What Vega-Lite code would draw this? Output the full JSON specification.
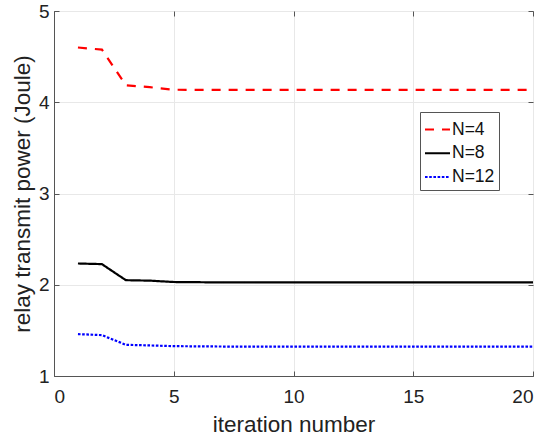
{
  "$schema": "https://vega.github.io/schema/vega-lite/v6.json",
  "width": 479,
  "height": 365,
  "autosize": {"type": "none"},
  "padding": {"left": 54, "top": 11, "right": 17, "bottom": 65},
  "background": "white",
  "config": {
    "font": "Liberation Sans",
    "view": {"stroke": "#555", "strokeWidth": 1}
  },
  "data": {
    "values": [
      {"iter": 1, "p": 4.60, "N": "N=4"},
      {"iter": 2, "p": 4.577, "N": "N=4"},
      {"iter": 3, "p": 4.186, "N": "N=4"},
      {"iter": 4, "p": 4.165, "N": "N=4"},
      {"iter": 5, "p": 4.137, "N": "N=4"},
      {"iter": 6, "p": 4.136, "N": "N=4"},
      {"iter": 7, "p": 4.135, "N": "N=4"},
      {"iter": 8, "p": 4.135, "N": "N=4"},
      {"iter": 9, "p": 4.135, "N": "N=4"},
      {"iter": 10, "p": 4.135, "N": "N=4"},
      {"iter": 11, "p": 4.135, "N": "N=4"},
      {"iter": 12, "p": 4.135, "N": "N=4"},
      {"iter": 13, "p": 4.135, "N": "N=4"},
      {"iter": 14, "p": 4.135, "N": "N=4"},
      {"iter": 15, "p": 4.135, "N": "N=4"},
      {"iter": 16, "p": 4.135, "N": "N=4"},
      {"iter": 17, "p": 4.135, "N": "N=4"},
      {"iter": 18, "p": 4.135, "N": "N=4"},
      {"iter": 19, "p": 4.135, "N": "N=4"},
      {"iter": 20, "p": 4.135, "N": "N=4"},
      {"iter": 1, "p": 2.233, "N": "N=8"},
      {"iter": 2, "p": 2.226, "N": "N=8"},
      {"iter": 3, "p": 2.05, "N": "N=8"},
      {"iter": 4, "p": 2.045, "N": "N=8"},
      {"iter": 5, "p": 2.03, "N": "N=8"},
      {"iter": 6, "p": 2.028, "N": "N=8"},
      {"iter": 7, "p": 2.025, "N": "N=8"},
      {"iter": 8, "p": 2.025, "N": "N=8"},
      {"iter": 9, "p": 2.025, "N": "N=8"},
      {"iter": 10, "p": 2.025, "N": "N=8"},
      {"iter": 11, "p": 2.025, "N": "N=8"},
      {"iter": 12, "p": 2.025, "N": "N=8"},
      {"iter": 13, "p": 2.025, "N": "N=8"},
      {"iter": 14, "p": 2.025, "N": "N=8"},
      {"iter": 15, "p": 2.025, "N": "N=8"},
      {"iter": 16, "p": 2.025, "N": "N=8"},
      {"iter": 17, "p": 2.025, "N": "N=8"},
      {"iter": 18, "p": 2.025, "N": "N=8"},
      {"iter": 19, "p": 2.025, "N": "N=8"},
      {"iter": 20, "p": 2.025, "N": "N=8"},
      {"iter": 1, "p": 1.459, "N": "N=12"},
      {"iter": 2, "p": 1.448, "N": "N=12"},
      {"iter": 3, "p": 1.342, "N": "N=12"},
      {"iter": 4, "p": 1.335, "N": "N=12"},
      {"iter": 5, "p": 1.327, "N": "N=12"},
      {"iter": 6, "p": 1.325, "N": "N=12"},
      {"iter": 7, "p": 1.323, "N": "N=12"},
      {"iter": 8, "p": 1.322, "N": "N=12"},
      {"iter": 9, "p": 1.322, "N": "N=12"},
      {"iter": 10, "p": 1.322, "N": "N=12"},
      {"iter": 11, "p": 1.322, "N": "N=12"},
      {"iter": 12, "p": 1.322, "N": "N=12"},
      {"iter": 13, "p": 1.322, "N": "N=12"},
      {"iter": 14, "p": 1.322, "N": "N=12"},
      {"iter": 15, "p": 1.322, "N": "N=12"},
      {"iter": 16, "p": 1.322, "N": "N=12"},
      {"iter": 17, "p": 1.322, "N": "N=12"},
      {"iter": 18, "p": 1.322, "N": "N=12"},
      {"iter": 19, "p": 1.322, "N": "N=12"},
      {"iter": 20, "p": 1.322, "N": "N=12"}
    ]
  },
  "layer": [
    {
      "mark": {"type": "line", "strokeWidth": 2.2, "clip": true},
      "encoding": {
        "x": {
          "field": "iter", "type": "quantitative",
          "scale": {"domain": [0, 20], "nice": false, "zero": false},
          "axis": {
            "orient": "bottom", "values": [0, 5, 10, 15, 20],
            "title": "iteration number", "titleFontSize": 22.5, "titleFontWeight": "normal",
            "titleColor": "#222", "titlePadding": 7,
            "labelFontSize": 19, "labelColor": "#222", "labelPadding": 16,
            "tickSize": -5, "tickColor": "#555", "domainColor": "#555",
            "grid": true, "gridColor": "#e8e8e8"
          }
        },
        "y": {
          "field": "p", "type": "quantitative",
          "scale": {"domain": [1, 5], "nice": false, "zero": false},
          "axis": {
            "orient": "left", "values": [1, 2, 3, 4, 5],
            "title": "relay transmit power (Joule)", "titleFontSize": 22.5, "titleFontWeight": "normal",
            "titleColor": "#222", "titlePadding": 4,
            "labelFontSize": 19, "labelColor": "#222", "labelPadding": 10,
            "tickSize": -5, "tickColor": "#555", "domainColor": "#555",
            "grid": true, "gridColor": "#e8e8e8"
          }
        },
        "color": {
          "field": "N", "type": "nominal",
          "scale": {"domain": ["N=4", "N=8", "N=12"], "range": ["#ff0000", "#000000", "#0000ff"]},
          "legend": {
            "title": null, "orient": "none", "legendX": 366, "legendY": 101,
            "symbolType": "stroke", "symbolSize": 625, "symbolStrokeWidth": 2,
            "labelFontSize": 17.5, "labelColor": "#111", "labelOffset": 1,
            "strokeColor": "#555", "fillColor": "white", "padding": 4,
            "rowPadding": 1.7, "symbolOffset": 0
          }
        },
        "strokeDash": {
          "field": "N", "type": "nominal",
          "scale": {"domain": ["N=4", "N=8", "N=12"], "range": [[9, 8], [1, 0], [2.6, 1.6]]},
          "legend": null
        },
        "order": {"field": "iter"}
      }
    },
    {
      "mark": {"type": "line", "opacity": 0},
      "encoding": {
        "x": {
          "field": "iter", "type": "quantitative",
          "axis": {"orient": "top", "values": [0, 5, 10, 15, 20], "labels": false, "title": null,
                   "tickSize": -5, "tickColor": "#555", "domain": false, "grid": false}
        },
        "y": {
          "field": "p", "type": "quantitative",
          "axis": {"orient": "right", "values": [1, 2, 3, 4, 5], "labels": false, "title": null,
                   "tickSize": -5, "tickColor": "#555", "domain": false, "grid": false}
        },
        "detail": {"field": "N"}
      }
    }
  ],
  "resolve": {"axis": {"x": "independent", "y": "independent"}}
}
